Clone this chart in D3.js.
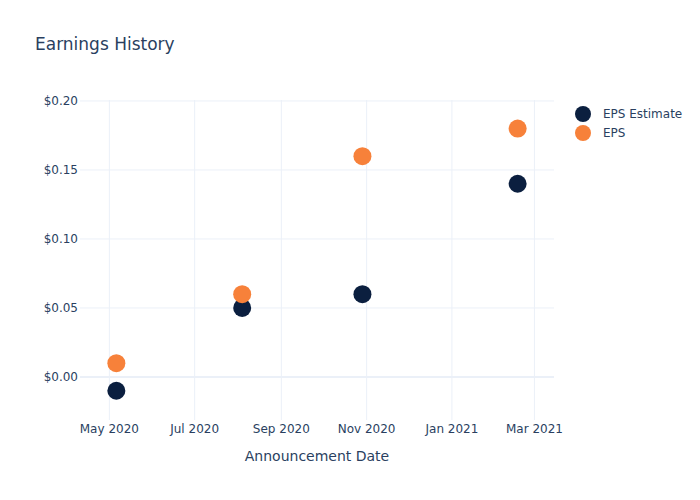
<!DOCTYPE html>
<html>
<head>
<meta charset="utf-8">
<script src="https://cdn.jsdelivr.net/npm/d3@7"></script>
<style>
  body { margin: 0; background: #fff; }
  text { font-family: "DejaVu Sans", Verdana, sans-serif; fill: #2a3f5f; }
</style>
</head>
<body>
<div id="chart"></div>
<script>
// data
var dates = ["2020-05-06", "2020-08-04", "2020-10-29", "2021-02-17"];
var epsEstimate = [-0.01, 0.05, 0.06, 0.14];
var epsActual = [0.01, 0.06, 0.16, 0.18];
var yTicks = [0, 0.05, 0.10, 0.15, 0.20];
var xTicks = ["2020-05-01", "2020-07-01", "2020-09-01", "2020-11-01", "2021-01-01", "2021-03-01"];
var seriesNames = ["EPS Estimate", "EPS"];
var seriesColors = ["#0b1f3f", "#f7813a"];

var parse = d3.timeParse("%Y-%m-%d");
var W = 700, H = 500;
var plotLeft = 80, plotRight = 554, plotTop = 100, plotBottom = 420;

var svg = d3.select("#chart").append("svg")
    .attr("width", W).attr("height", H);

var x = d3.scaleTime()
    .domain([parse("2020-04-10"), parse("2021-03-15")])
    .range([plotLeft, plotRight]);

var y = d3.scaleLinear()
    .domain([-0.0312, 0.2007])
    .range([plotBottom, plotTop]);

// grid
svg.append("g").selectAll("line").data(xTicks).enter().append("line")
    .attr("x1", function(d) { return x(parse(d)); })
    .attr("x2", function(d) { return x(parse(d)); })
    .attr("y1", plotTop).attr("y2", plotBottom)
    .attr("stroke", "#ebf0f8").attr("stroke-width", 1);

svg.append("g").selectAll("line").data(yTicks).enter().append("line")
    .attr("x1", plotLeft).attr("x2", plotRight)
    .attr("y1", function(d) { return y(d); })
    .attr("y2", function(d) { return y(d); })
    .attr("stroke", "#ebf0f8")
    .attr("stroke-width", function(d) { return d === 0 ? 2 : 1; });

// axis labels
svg.append("g").selectAll("text").data(yTicks).enter().append("text")
    .attr("x", plotLeft - 2)
    .attr("y", function(d) { return y(d) + 4; })
    .attr("text-anchor", "end")
    .style("font-size", "12px")
    .text(function(d) { return "$" + d3.format(".2f")(d); });

svg.append("g").selectAll("text").data(xTicks).enter().append("text")
    .attr("x", function(d) { return x(parse(d)); })
    .attr("y", plotBottom + 13)
    .attr("text-anchor", "middle")
    .style("font-size", "12px")
    .text(function(d) { return d3.timeFormat("%b %Y")(parse(d)); });

svg.append("text")
    .attr("x", (plotLeft + plotRight) / 2)
    .attr("y", 461)
    .attr("text-anchor", "middle")
    .style("font-size", "14px")
    .text("Announcement Date");

svg.append("text")
    .attr("x", 35).attr("y", 50)
    .style("font-size", "17px")
    .text("Earnings History");

// points
[epsEstimate, epsActual].forEach(function(vals, s) {
  svg.append("g").selectAll("circle").data(vals).enter().append("circle")
      .attr("cx", function(d, i) { return x(parse(dates[i])); })
      .attr("cy", function(d) { return y(d); })
      .attr("r", 9)
      .attr("fill", seriesColors[s]);
});

// legend
var legend = svg.append("g").selectAll("g").data(seriesNames).enter().append("g")
    .attr("transform", function(d, i) { return "translate(583," + (114 + i * 19) + ")"; });
legend.append("circle").attr("r", 8)
    .attr("fill", function(d, i) { return seriesColors[i]; });
legend.append("text").attr("x", 20).attr("y", 4)
    .style("font-size", "12px")
    .text(function(d) { return d; });
</script>
</body>
</html>
